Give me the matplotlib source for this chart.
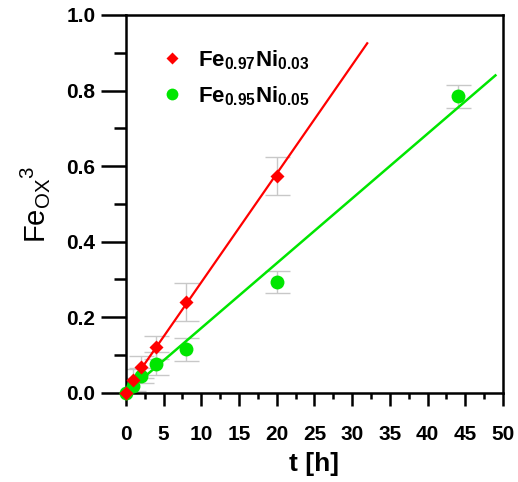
import numpy as np
import matplotlib.pyplot as plt
from matplotlib.ticker import MultipleLocator

plt.rcParams['font.family'] = ['Liberation Sans', 'DejaVu Sans']
plt.rcParams['mathtext.default'] = 'regular'

# measured points
t_097 = [0, 1, 2, 4, 8, 20]
fe_097 = [0.0, 0.034, 0.068, 0.12, 0.24, 0.573]
err_097 = [0.03, 0.03, 0.03, 0.03, 0.05, 0.05]

t_095 = [0, 1, 2, 4, 8, 20, 44]
fe_095 = [0.0, 0.018, 0.045, 0.077, 0.115, 0.293, 0.785]
err_095 = [0.02, 0.02, 0.02, 0.03, 0.03, 0.03, 0.03]

# linear fits (end points)
fit_t_097 = [0, 32]
fit_fe_097 = [0.005, 0.925]
fit_t_095 = [0, 49]
fit_fe_095 = [0.0, 0.84]

fig = plt.figure(figsize=(5.18, 4.82), dpi=100)
ax = fig.add_axes([0.243, 0.185, 0.728, 0.784])

ax.errorbar(t_097, fe_097, yerr=err_097, fmt='none', ecolor='#c8c8c8',
            elinewidth=1, capsize=9, capthick=1, zorder=1)
ax.errorbar(t_095, fe_095, yerr=err_095, fmt='none', ecolor='#c8c8c8',
            elinewidth=1, capsize=9, capthick=1, zorder=1)

ax.plot(fit_t_097, fit_fe_097, color='#ff0000', lw=1.6, zorder=2)
ax.plot(fit_t_095, fit_fe_095, color='#00e600', lw=1.8, zorder=2)

ax.plot(t_097, fe_097, 'D', color='#ff0000', ms=7.5, mec='none', zorder=4,
        clip_on=False, label='Fe$_{0.97}$Ni$_{0.03}$')
ax.plot(t_095, fe_095, 'o', color='#00e600', ms=10, mec='none', zorder=3,
        clip_on=False, label='Fe$_{0.95}$Ni$_{0.05}$')

ax.set_xlim(0, 50)
ax.set_ylim(0, 1.0)
ax.xaxis.set_major_locator(MultipleLocator(5))
ax.xaxis.set_minor_locator(MultipleLocator(2.5))
ax.yaxis.set_major_locator(MultipleLocator(0.2))
ax.yaxis.set_minor_locator(MultipleLocator(0.1))
ax.yaxis.set_major_formatter(plt.FormatStrFormatter('%.1f'))

for s in ax.spines.values():
    s.set_linewidth(1.8)
ax.tick_params(axis='x', which='major', direction='out', length=9, width=1.8,
               labelsize=15, pad=14)
ax.tick_params(axis='x', which='minor', direction='out', length=4.5, width=1.8)
ax.tick_params(axis='y', which='major', direction='out', length=18, width=1.8,
               labelsize=15, pad=4)
ax.tick_params(axis='y', which='minor', direction='out', length=9, width=1.8)
for lab in ax.get_xticklabels() + ax.get_yticklabels():
    lab.set_fontweight('bold')

ax.set_xlabel('t [h]', fontsize=19, fontweight='bold', labelpad=6)
ax.set_ylabel('Fe$_{OX}$$^{3}$', fontsize=21, labelpad=10)

leg = ax.legend(loc='upper left', bbox_to_anchor=(0.04, 0.965), frameon=False,
                prop={'size': 16, 'weight': 'bold'}, handlelength=1.0,
                handletextpad=0.65, labelspacing=0.55, numpoints=1,
                markerscale=0.85)

fig.savefig('out.png', dpi=100)
